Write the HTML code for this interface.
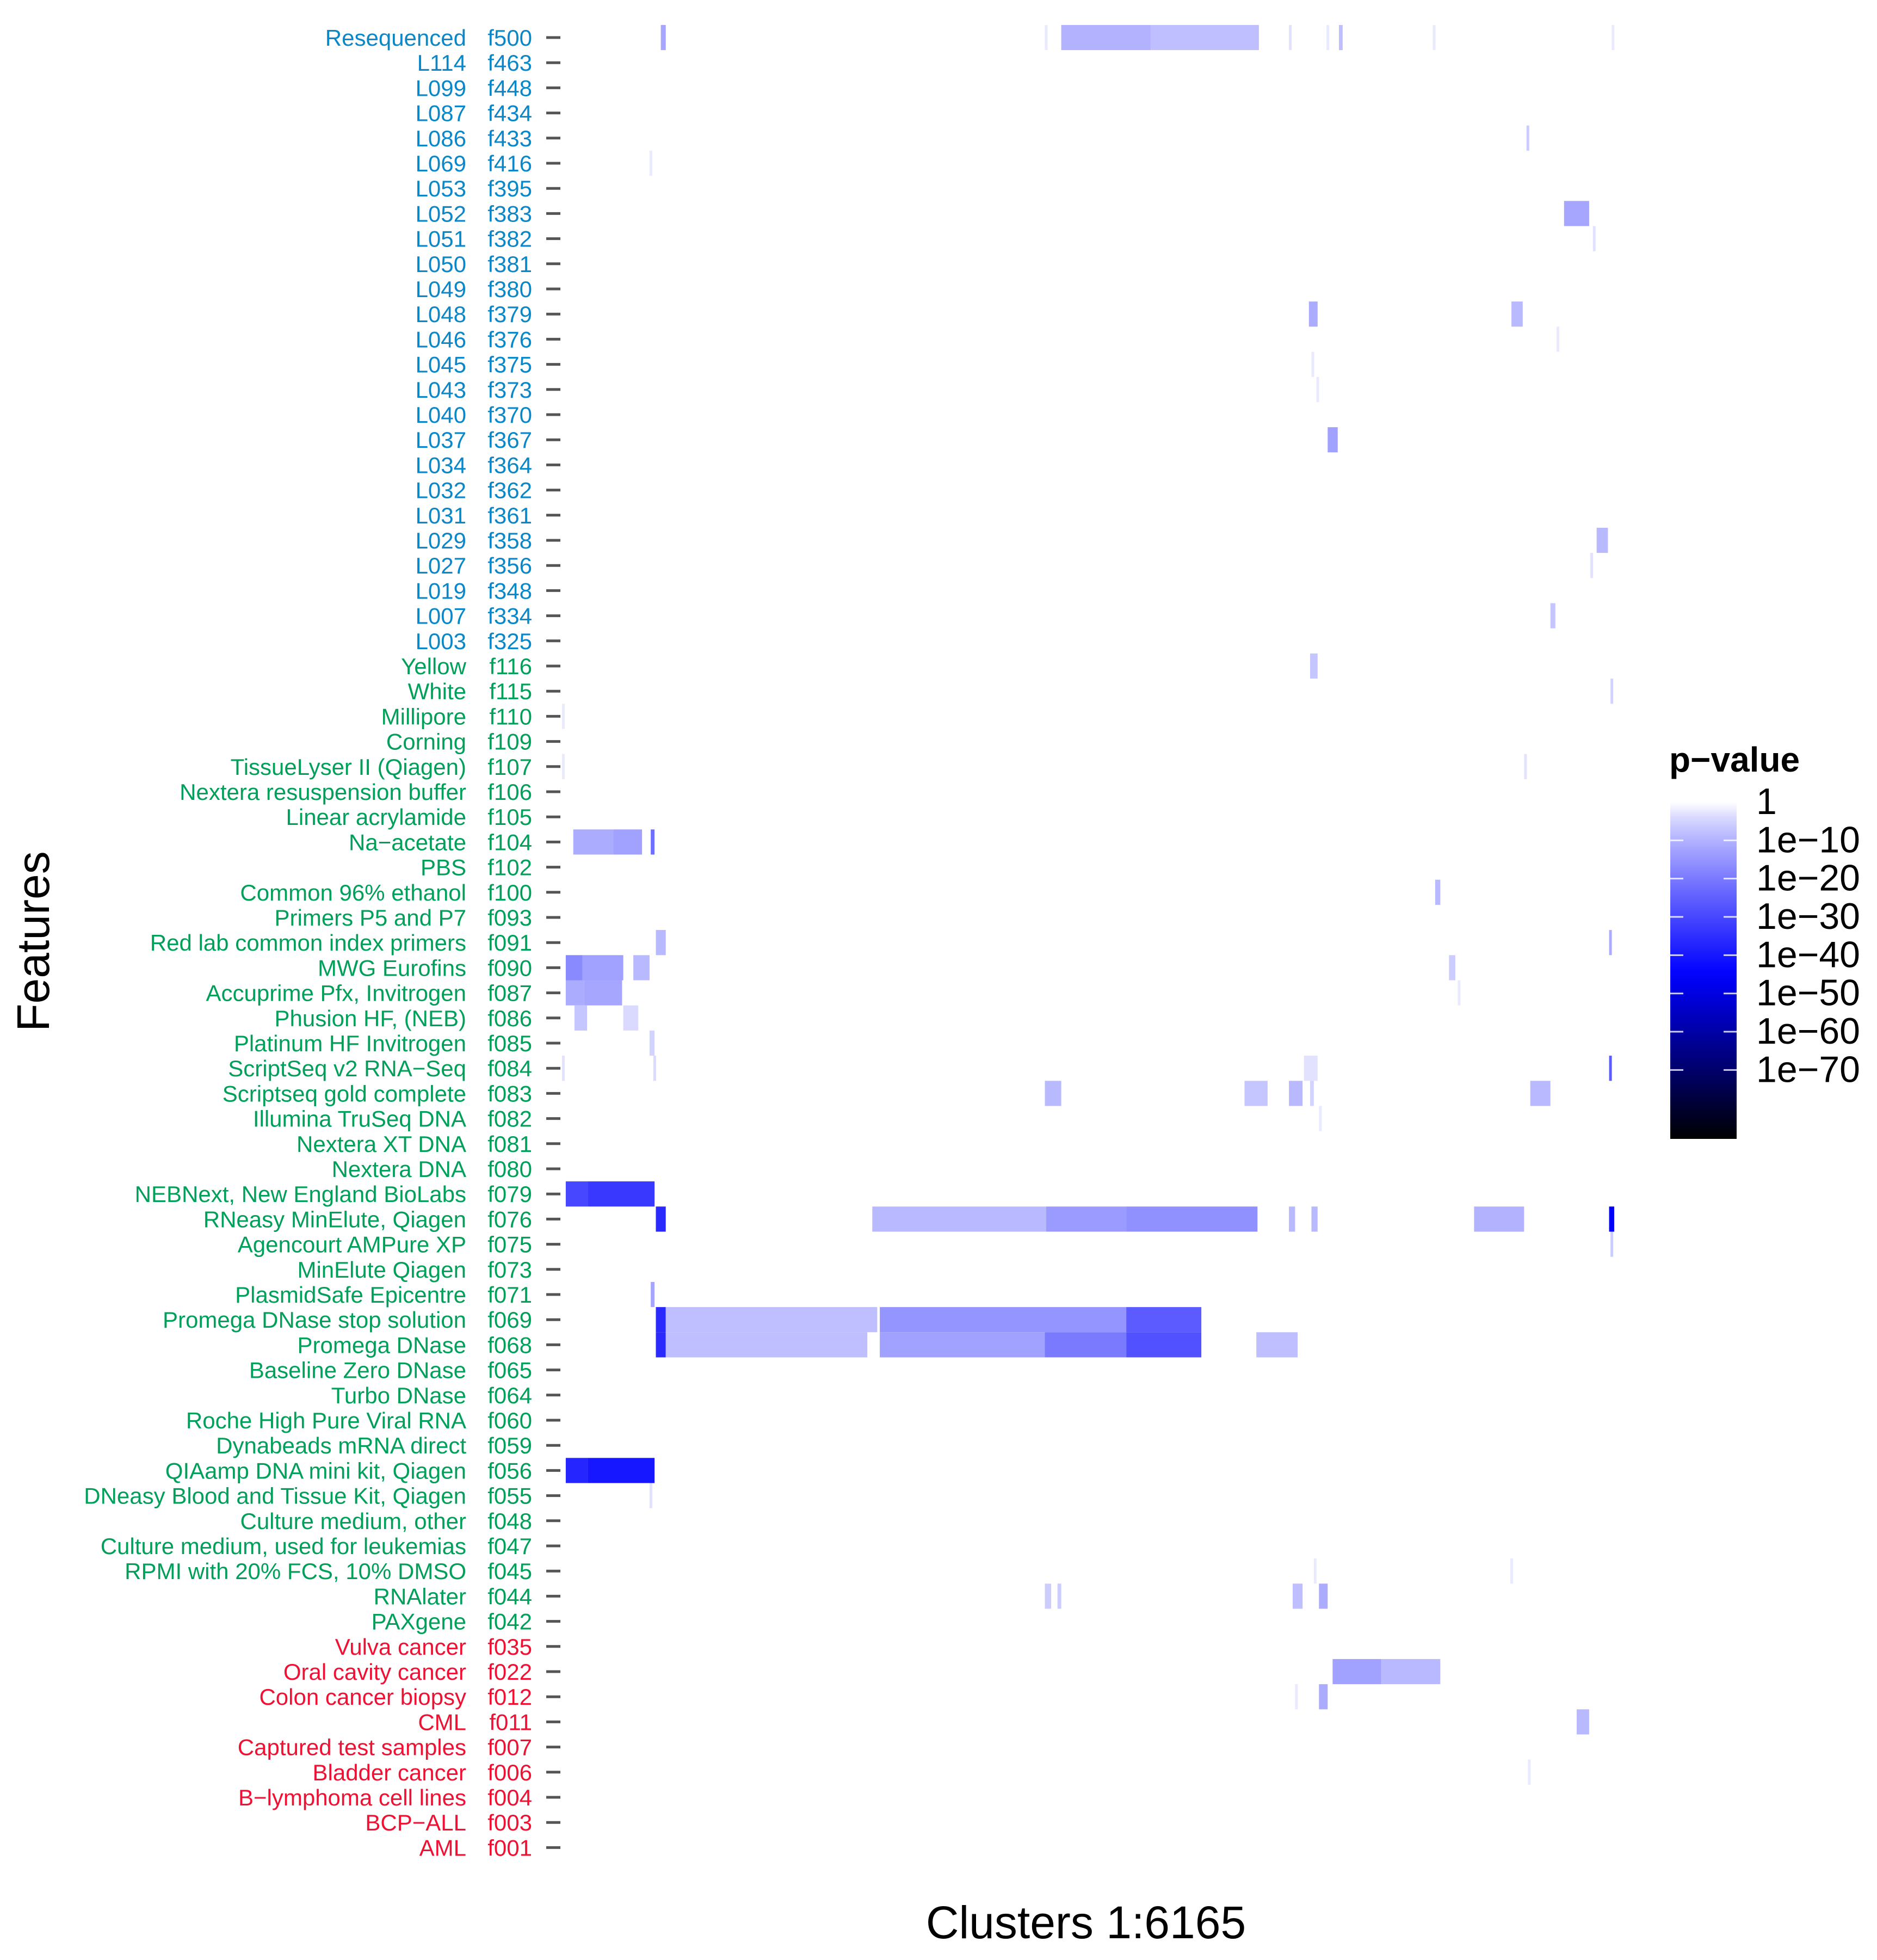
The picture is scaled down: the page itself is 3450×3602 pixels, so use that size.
<!DOCTYPE html>
<html><head><meta charset="utf-8"><style>
html,body{margin:0;padding:0;background:#fff;}
svg{display:block;font-family:"Liberation Sans",sans-serif;}
</style></head><body>
<svg id="chart" width="3450" height="3602" viewBox="0 0 3450 3602" xmlns="http://www.w3.org/2000/svg">
<text transform="translate(90,1730) rotate(-90)" text-anchor="middle" font-size="84" fill="#000">Features</text>
<text x="1996" y="3562" text-anchor="middle" font-size="84" fill="#000">Clusters 1:6165</text>
<g id="cells"></g>
<g id="labels"></g>
<g id="legend"></g>
</svg>
<script>
// ---- data ----
const featureIds = ["f500","f463","f448","f434","f433","f416","f395","f383","f382","f381","f380","f379","f376","f375","f373","f370","f367","f364","f362","f361","f358","f356","f348","f334","f325",
"f116","f115","f110","f109","f107","f106","f105","f104","f102","f100","f093","f091","f090","f087","f086","f085","f084","f083","f082","f081","f080","f079","f076","f075","f073","f071","f069","f068","f065","f064","f060","f059","f056","f055","f048","f047","f045","f044","f042",
"f035","f022","f012","f011","f007","f006","f004","f003","f001"];
const featureNames = ["Resequenced","L114","L099","L087","L086","L069","L053","L052","L051","L050","L049","L048","L046","L045","L043","L040","L037","L034","L032","L031","L029","L027","L019","L007","L003",
"Yellow","White","Millipore","Corning","TissueLyser II (Qiagen)","Nextera resuspension buffer","Linear acrylamide","Na\u2212acetate","PBS","Common 96% ethanol","Primers P5 and P7","Red lab common index primers","MWG Eurofins","Accuprime Pfx, Invitrogen","Phusion HF, (NEB)","Platinum HF Invitrogen ","ScriptSeq v2 RNA\u2212Seq","Scriptseq gold complete","Illumina TruSeq DNA","Nextera XT DNA","Nextera DNA","NEBNext, New England BioLabs","RNeasy MinElute, Qiagen","Agencourt AMPure XP","MinElute Qiagen","PlasmidSafe Epicentre","Promega DNase stop solution","Promega DNase","Baseline Zero DNase ","Turbo DNase ","Roche High Pure Viral RNA","Dynabeads mRNA direct","QIAamp DNA mini kit, Qiagen","DNeasy Blood and Tissue Kit, Qiagen","Culture medium, other","Culture medium, used for leukemias","RPMI with 20% FCS, 10% DMSO","RNAlater","PAXgene",
"Vulva cancer","Oral cavity cancer","Colon cancer biopsy","CML","Captured test samples","Bladder cancer","B\u2212lymphoma cell lines","BCP\u2212ALL","AML"];
const featureGroup = [];
for(let i=0;i<featureIds.length;i++){featureGroup.push(i<25?"lib":(i<64?"lab":"sample"));}
// segments: row id, start cluster, end cluster, -log10(p)
const segRow   = ["f500","f500","f500","f500","f500","f500","f500","f500","f500","f433","f416","f383","f382","f379","f379","f376","f375","f373","f367","f358","f356","f334","f116","f115","f110","f107","f107",
"f104","f104","f104","f100","f091","f091","f090","f090","f090","f090","f087","f087","f087","f086","f086","f085","f084","f084","f084","f084","f083","f083","f083","f083","f083","f082","f079","f079",
"f076","f076","f076","f076","f076","f076","f076","f076","f075","f071","f069","f069","f069","f069","f068","f068","f068","f068","f068","f068","f056","f056","f055","f045","f045","f044","f044","f044","f044","f022","f022","f012","f012","f011","f006"];
const segStart = [579,2829,2925,3450,4259,4479,4552,5102,6150,5651,513,5871,6040,4376,5563,5827,4391,4420,4486,6062,6025,5791,4383,6143,0,5637,0,
66,300,520,5116,550,6135,22,120,418,5197,22,130,5248,73,359,513,0,535,4347,6135,2829,3999,4259,4383,5673,4435,22,150,
550,1818,2837,3306,4259,4391,5344,6135,6143,520,550,608,1862,3306,550,608,1862,2829,3306,4068,22,150,513,4405,5556,2829,2903,4281,4435,4515,4800,4295,4435,5945,5659];
const segEnd   = [608,2844,3450,4083,4267,4486,4574,5109,6157,5666,520,6018,6047,4427,5629,5834,4398,4427,4545,6128,6032,5820,4427,6150,7,5644,7,
300,469,542,5146,608,6150,120,359,513,5234,130,352,5255,147,447,542,7,550,4427,6150,2925,4134,4339,4405,5791,4442,150,542,
608,2837,3306,4075,4295,4427,5637,6165,6150,542,608,1847,3306,3746,608,1789,2829,3306,3746,4310,150,542,520,4412,5563,2866,2925,4339,4486,4800,5146,4302,4486,6018,5666];
const segValue = [12,2,10,8,3,2,8,2,2,6,2,12,3,11,9,2,2,2,13,9,3,7,7,5,2,3,2,
11,13,22,9,9,11,17,13,9,6,11,12,2,7,4,5,3,4,3,26,9,7,9,5,9,2,30,33,
36,9,14,16,9,9,10,46,6,12,36,8,15,26,36,8,13,20,28,8,37,40,3,2,2,6,6,8,11,13,9,2,11,9,2];
// legend
const legendTicks = [0,10,20,30,40,50,60,70];
const legendLabels = ["1","1e\u221210","1e\u221220","1e\u221230","1e\u221240","1e\u221250","1e\u221260","1e\u221270"];
const legendMax = 88;

// ---- scales ----
const NS="http://www.w3.org/2000/svg";
const X0=1033, X1=2967, NCLU=6165;
const Y0=69, DY=46.2;
const xScale=c=>X0+(c/NCLU)*(X1-X0);
const yScale=id=>Y0+featureIds.indexOf(id)*DY;
function color(v){
  let r,g,b;
  if(v<=45){const t=Math.pow(Math.max(0,v)/45,0.8);r=g=Math.round(255*(1-t));b=255;}
  else{const t=Math.min(1,(v-45)/(legendMax-45));r=g=0;b=Math.round(255*(1-t));}
  return `rgb(${r},${g},${b})`;
}
function mk(tag,attrs,parent){const e=document.createElementNS(NS,tag);for(const k in attrs)e.setAttribute(k,attrs[k]);parent.appendChild(e);return e;}

const cells=document.getElementById('cells');
for(let i=0;i<segRow.length;i++){
  const xa=xScale(segStart[i]), xb=xScale(segEnd[i]);
  const w=Math.max(5,xb-xa);
  const r=mk('rect',{x:xa.toFixed(1),y:(yScale(segRow[i])-DY/2).toFixed(1),width:w.toFixed(1),height:DY.toFixed(1),fill:color(segValue[i])},cells);
  
  
}

const labels=document.getElementById('labels');
const gcol={lib:"#0a87c8",lab:"#00a05a",sample:"#ee1133"};
for(let i=0;i<featureIds.length;i++){
  const y=Y0+i*DY;
  const t1=mk('text',{x:857,y:y+15,'text-anchor':'end','font-size':42,fill:gcol[featureGroup[i]]},labels);
  t1.textContent=featureNames[i];
  
  
  const t2=mk('text',{x:978,y:y+15,'text-anchor':'end','font-size':42,fill:gcol[featureGroup[i]]},labels);
  t2.textContent=featureIds[i];
  
  
  const tk=mk('line',{x1:1004,x2:1030,y1:y,y2:y,stroke:"#555",'stroke-width':5},labels);
  
  
}

// legend
const lg=document.getElementById('legend');
const LX=3070, LW=122, LY0=1474, LY1=2093;
const lScale=v=>LY0+(v/legendMax)*(LY1-LY0);
const defs=mk('defs',{},lg);
const grad=mk('linearGradient',{id:'pg',x1:0,y1:0,x2:0,y2:1},defs);
for(let v=0;v<=legendMax;v+=4){mk('stop',{offset:(v/legendMax).toFixed(3),'stop-color':color(v)},grad);}
const bar=mk('rect',{x:LX,y:LY0,width:LW,height:LY1-LY0,fill:'url(#pg)'},lg);


const lt=mk('text',{x:3068,y:1418,'font-size':64,'font-weight':'bold',fill:'#000'},lg);
lt.textContent="p\u2212value";


for(let i=0;i<legendTicks.length;i++){
  const y=lScale(legendTicks[i]);
  if(i>0){
    const a=mk('line',{x1:LX,x2:LX+24,y1:y,y2:y,stroke:'#fff','stroke-width':3,opacity:0.8},lg);
    
    
    const b=mk('line',{x1:LX+LW-24,x2:LX+LW,y1:y,y2:y,stroke:'#fff','stroke-width':3,opacity:0.8},lg);
    
    
  }
  const t=mk('text',{x:3228,y:y+22,'font-size':68,fill:'#000'},lg);
  t.textContent=legendLabels[i];
  
  
}
</script>
</body></html>
